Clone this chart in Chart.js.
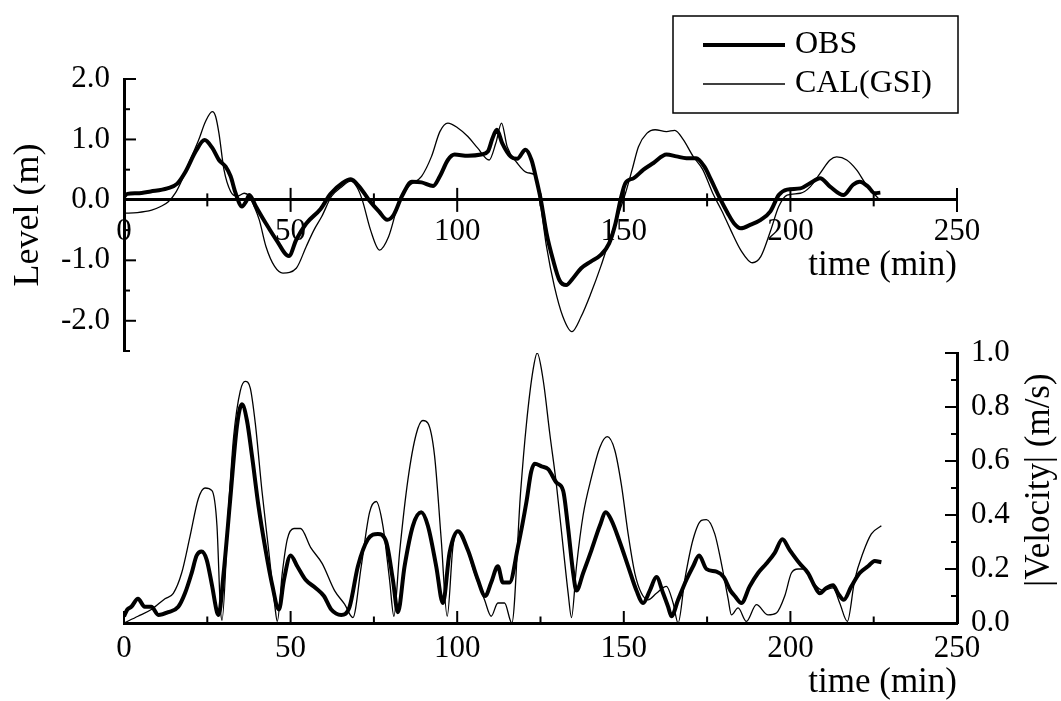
<!DOCTYPE html>
<html>
<head>
<meta charset="utf-8">
<script src="https://cdn.jsdelivr.net/npm/chart.js@4.4.1/dist/chart.umd.min.js"></script>
<style>
  html, body { margin: 0; background: #fff; }
  #wrap { position: relative; width: 1061px; height: 701px; overflow: hidden; }
  canvas { position: absolute; left: 0; }
  #levelChart { top: 0; }
  #velChart { top: 340px; }
</style>
</head>
<body>
<div id="wrap">
  <canvas id="levelChart" width="1061" height="360"></canvas>
  <canvas id="velChart" width="1061" height="361"></canvas>
</div>
<script>
// tick labels
const timeTicks = [0, 50, 100, 150, 200, 250];
const levelTicks = [-2, -1, 0, 1, 2];
const velTicks = [0, 0.2, 0.4, 0.6, 0.8, 1.0];

// water level (m), observed
const timeLevelObs = [0, 1, 4, 8, 13, 16, 18.5, 21.5, 24.2, 26.5,
  28.5, 30.5, 32, 33.5, 35.4, 36.6, 37.6, 39.6, 42.6, 45.7,
  49.5, 51.7, 54.7, 59, 62, 65.6, 68.1, 70.6, 73.5, 76.5,
  79, 80.9, 83.4, 86.4, 89.3, 92.8, 94.8, 97.2, 99.2, 103.2,
  107.2, 109.2, 110.6, 111.9, 113.5, 116, 118, 120.5, 122.3, 123.8,
  125.1, 126.8, 128.8, 130.7, 132.7, 134.7, 137.2, 140.1, 143.1, 145.6,
  147.5, 149, 150.5, 153, 155.9, 158.9, 162.8, 165.8, 168.8, 171.7,
  174.2, 176.2, 178.7, 181.2, 183.1, 185.1, 188.1, 191.1, 194, 196.5,
  199, 203, 206, 208.9, 211.9, 215.9, 218.8, 220.8, 223.3, 225.3, 227];
const levelObs = [0.05, 0.10, 0.11, 0.14, 0.19, 0.27, 0.47, 0.80, 0.99, 0.86,
  0.66, 0.55, 0.39, 0.11, -0.11, -0.03, 0.08, -0.11, -0.39, -0.66,
  -0.93, -0.66, -0.39, -0.15, 0.10, 0.28, 0.34, 0.22, 0.00, -0.19,
  -0.33, -0.25, 0.06, 0.30, 0.29, 0.23, 0.39, 0.66, 0.75, 0.73,
  0.75, 0.80, 1.02, 1.16, 0.94, 0.72, 0.68, 0.83, 0.66, 0.33,
  0.00, -0.55, -1.00, -1.33, -1.41, -1.30, -1.13, -1.02, -0.91, -0.72,
  -0.39, 0.00, 0.28, 0.36, 0.50, 0.61, 0.75, 0.72, 0.69, 0.69,
  0.55, 0.33, 0.04, -0.22, -0.39, -0.47, -0.41, -0.33, -0.19, 0.08,
  0.17, 0.19, 0.28, 0.36, 0.22, 0.08, 0.25, 0.30, 0.22, 0.11, 0.12];

// water level (m), calculated
const timeLevelCal = [0, 4, 8.3, 11, 13.3, 15.5, 17.4, 20, 22.4, 24.5,
  26.5, 27.5, 28.5, 30, 32, 34, 36.1, 37.6, 39, 40.6,
  42.6, 45.2, 47.7, 51.7, 54.7, 57, 59.3, 62.3, 65, 68.1,
  70, 71.5, 74, 76.7, 79.4, 82.4, 85.4, 89.3, 92.3, 94.8,
  97.2, 100.2, 103.2, 106.1, 109.6, 111.6, 113.3, 115, 118, 121,
  123.3, 124.8, 126.8, 129.2, 131.7, 134.4, 137.2, 140.1, 143.1, 146,
  148.5, 150.5, 152.5, 154.4, 156.9, 159.4, 162.8, 165.3, 167.8, 170.8,
  173.7, 176.7, 179.4, 182.1, 185.1, 188.6, 191.1, 194, 196.5, 199,
  203, 206, 208.9, 211.9, 213.9, 216.9, 219.8, 222.8, 225.8, 226.5];
const levelCal = [-0.22, -0.21, -0.17, -0.11, -0.03, 0.12, 0.33, 0.68, 0.99, 1.30,
  1.46, 1.38, 1.10, 0.50, 0.14, 0.06, 0.11, 0.06, -0.10, -0.33,
  -0.77, -1.10, -1.21, -1.13, -0.77, -0.50, -0.28, 0.06, 0.20, 0.31,
  0.20, 0.00, -0.50, -0.83, -0.61, -0.06, 0.22, 0.39, 0.72, 1.13,
  1.27, 1.19, 1.05, 0.86, 0.66, 0.94, 1.27, 0.88, 0.61, 0.45,
  0.41, 0.00, -0.77, -1.44, -1.93, -2.18, -1.93, -1.55, -1.10, -0.61,
  -0.22, 0.11, 0.50, 0.88, 1.10, 1.16, 1.13, 1.15, 1.00, 0.72,
  0.50, 0.11, -0.18, -0.50, -0.83, -1.04, -0.94, -0.52, -0.11, 0.08,
  0.11, 0.22, 0.44, 0.66, 0.71, 0.66, 0.50, 0.25, 0.06, 0.02];

// |velocity| (m/s), observed
const timeVelObs = [0, 1, 2.2, 4.2, 6.2, 8.2, 10.3, 13.3, 16.3, 18.3,
  20.3, 21.8, 23.3, 24.8, 26.4, 27.9, 28.4, 29.9, 31.9, 33.9,
  35.4, 36.9, 38.4, 40.4, 42.5, 44.5, 46.5, 48, 50, 52,
  54.5, 57.5, 60, 62.2, 65.2, 67.7, 70.2, 73.2, 76.2, 78.7,
  80.7, 82.2, 84.2, 86.7, 89.2, 91.2, 93.7, 95.7, 97.7, 100.2,
  103.2, 106.2, 108.4, 110.2, 112.2, 113.7, 115.7, 118.2, 120.8, 122.2,
  123.3, 125.3, 127.3, 129.8, 131.8, 133.3, 134.8, 135.8, 137.8, 140.3,
  142.8, 144.6, 146.3, 148.8, 151.3, 153.8, 155.8, 157.8, 159.8, 161.8,
  163.3, 164.3, 166.3, 168.8, 170.8, 172.6, 174.8, 177.8, 180, 182,
  183.3, 185.3, 187.8, 190.3, 192.8, 195.3, 197.6, 199.8, 202.8, 205.3,
  207.3, 208.8, 210.8, 212.8, 214.3, 216, 218.3, 220.8, 223.3, 225.3, 227.3];
const velObs = [0.025, 0.05, 0.06, 0.09, 0.06, 0.06, 0.03, 0.04, 0.06, 0.11,
  0.185, 0.25, 0.265, 0.235, 0.14, 0.04, 0.03, 0.185, 0.46, 0.73,
  0.81, 0.75, 0.62, 0.43, 0.27, 0.14, 0.05, 0.16, 0.25, 0.21,
  0.16, 0.13, 0.10, 0.05, 0.03, 0.06, 0.21, 0.31, 0.33, 0.30,
  0.16, 0.04, 0.21, 0.36, 0.41, 0.36, 0.21, 0.074, 0.26, 0.34,
  0.27, 0.16, 0.10, 0.15, 0.21, 0.15, 0.15, 0.28, 0.45, 0.56,
  0.59, 0.58, 0.57, 0.52, 0.49, 0.35, 0.185, 0.12, 0.185, 0.27,
  0.36, 0.41, 0.38, 0.30, 0.21, 0.12, 0.074, 0.12, 0.17, 0.11,
  0.06, 0.025, 0.086, 0.16, 0.21, 0.25, 0.20, 0.19, 0.17, 0.12,
  0.10, 0.074, 0.136, 0.185, 0.22, 0.26, 0.31, 0.27, 0.22, 0.185,
  0.136, 0.11, 0.13, 0.14, 0.11, 0.086, 0.136, 0.185, 0.21, 0.23, 0.225];

// |velocity| (m/s), calculated
const timeVelCal = [0, 4.2, 8.2, 12.3, 14.8, 17.3, 19.8, 22.3, 24.3, 26.4,
  27.9, 28.9, 29.4, 31.4, 32.9, 34.9, 36.4, 37.9, 39.4, 41.4,
  43.5, 45.3, 46, 47.5, 49, 51, 53, 56, 59.5, 63.2,
  66.2, 68.7, 71.2, 73.7, 75.7, 77.7, 79.7, 81, 82.7, 85.2,
  87.7, 89.7, 91.2, 93.2, 95.2, 97, 98.7, 100.2, 102.2, 105.2,
  108.2, 110.2, 112.2, 114.2, 116.4, 119, 120.8, 122.8, 124, 125.8,
  127.8, 129.8, 131.8, 133.3, 134.3, 135.8, 137.8, 140.3, 142.8, 145,
  147.3, 149.3, 151.3, 153.3, 155.3, 157.3, 159.8, 162.8, 164.8, 166.3,
  168.3, 170.8, 173.3, 174.8, 177.3, 179.3, 181.3, 182.3, 184.3, 186.8,
  189.8, 193.3, 195.8, 198.3, 200.3, 202.3, 204.3, 206.8, 209.8, 212.8,
  214.8, 217.1, 219.3, 221.8, 224.3, 227.3];
const velCal = [0, 0.025, 0.05, 0.09, 0.11, 0.185, 0.32, 0.46, 0.50, 0.49,
  0.36, 0.06, 0.01, 0.43, 0.69, 0.86, 0.895, 0.87, 0.74, 0.49,
  0.26, 0.06, 0.006, 0.185, 0.31, 0.35, 0.35, 0.28, 0.22, 0.12,
  0.07, 0.02, 0.21, 0.41, 0.45, 0.36, 0.16, 0.025, 0.26, 0.53,
  0.70, 0.75, 0.74, 0.62, 0.31, 0.025, 0.28, 0.34, 0.30, 0.185,
  0.086, 0.025, 0.074, 0.074, 0.0, 0.48, 0.74, 0.94, 1.0, 0.90,
  0.70, 0.51, 0.28, 0.11, 0.02, 0.21, 0.40, 0.54, 0.65, 0.69,
  0.64, 0.51, 0.33, 0.185, 0.11, 0.086, 0.11, 0.136, 0.074, 0.0,
  0.16, 0.31, 0.38, 0.383, 0.33, 0.22, 0.09, 0.03, 0.056, 0.006,
  0.068, 0.03, 0.037, 0.10, 0.185, 0.20, 0.20, 0.15, 0.12, 0.13,
  0.074, 0.006, 0.16, 0.26, 0.33, 0.36];

const serif = '"Liberation Serif", "Times New Roman", serif';
Chart.defaults.font.family = serif;
Chart.defaults.color = '#000';

const pts = (xs, ys) => xs.map((x, i) => ({x: x, y: ys[i]}));
const tickFont = {family: serif, size: 31};
const titleFont = {family: serif, size: 35};

function seg(ctx, x1, y1, x2, y2) {
  ctx.beginPath();
  ctx.moveTo(x1, y1);
  ctx.lineTo(x2, y2);
  ctx.stroke();
}

function lineSet(label, data, width) {
  return {
    label: label, data: data, borderColor: '#000', borderWidth: width,
    pointRadius: 0, cubicInterpolationMode: 'monotone', borderJoinStyle: 'round'
  };
}

// inward tick marks + boxed legend for the level panel
const levelDecor = {
  id: 'levelDecor',
  afterDraw(chart) {
    const ctx = chart.ctx;
    const {x, y} = chart.scales;
    const y0 = y.getPixelForValue(0);
    const ax = chart.chartArea.left;
    ctx.save();
    ctx.strokeStyle = '#000';
    ctx.lineWidth = 2;
    timeTicks.forEach(v => {
      const p = x.getPixelForValue(v);
      seg(ctx, p, y0 - 12, p, y0 + 12);
      if (v < 250) {
        const q = x.getPixelForValue(v + 25);
        seg(ctx, q, y0 - 6.5, q, y0 + 6.5);
      }
    });
    levelTicks.forEach(v => {
      const p = y.getPixelForValue(v);
      seg(ctx, ax, p, ax + 12, p);
      const q = y.getPixelForValue(v - 0.5);
      seg(ctx, ax, q, ax + 6, q);
    });

    // legend
    const right = x.getPixelForValue(250) + 1;
    const left = right - 285;
    ctx.lineWidth = 1.5;
    ctx.strokeRect(left, 16, right - left, 97);
    ctx.font = '32px ' + serif;
    ctx.fillStyle = '#000';
    ctx.textAlign = 'left';
    ctx.textBaseline = 'middle';
    chart.data.datasets.forEach((ds, i) => {
      const ly = 45 + i * 39;
      ctx.lineWidth = ds.borderWidth;
      seg(ctx, left + 30, ly, left + 112, ly);
      ctx.fillText(ds.label, left + 122, ly);
    });
    ctx.restore();
  }
};

// inward tick marks + right title for the velocity panel
const velDecor = {
  id: 'velDecor',
  afterDraw(chart) {
    const ctx = chart.ctx;
    const {x, y} = chart.scales;
    const area = chart.chartArea;
    ctx.save();
    ctx.strokeStyle = '#000';
    ctx.lineWidth = 2;
    timeTicks.forEach(v => {
      const p = x.getPixelForValue(v);
      seg(ctx, p, area.bottom, p, area.bottom - 12);
      if (v < 250) {
        const q = x.getPixelForValue(v + 25);
        seg(ctx, q, area.bottom, q, area.bottom - 6.5);
      }
    });
    velTicks.forEach(v => {
      const p = y.getPixelForValue(v);
      seg(ctx, area.right, p, area.right - 12, p);
      if (v < 1) {
        const q = y.getPixelForValue(v + 0.1);
        seg(ctx, area.right, q, area.right - 6, q);
      }
    });
    ctx.translate(y.right - 21, (y.top + y.bottom) / 2 - 8);
    ctx.rotate(-Math.PI / 2);
    ctx.font = '35px ' + serif;
    ctx.fillStyle = '#000';
    ctx.textAlign = 'center';
    ctx.textBaseline = 'middle';
    ctx.fillText('|Velocity| (m/s)', 0, 0);
    ctx.restore();
  }
};

new Chart(document.getElementById('levelChart'), {
  type: 'line',
  data: {
    datasets: [
      lineSet('OBS', pts(timeLevelObs, levelObs), 4),
      lineSet('CAL(GSI)', pts(timeLevelCal, levelCal), 1.3)
    ]
  },
  options: {
    responsive: false,
    animation: false,
    devicePixelRatio: 1,
    layout: {padding: {left: 0, right: 104, top: 79, bottom: 9}},
    plugins: {legend: {display: false}, tooltip: {enabled: false}},
    scales: {
      x: {
        type: 'linear', min: 0, max: 250, position: {y: 0},
        afterBuildTicks: s => { s.ticks = timeTicks.map(v => ({value: v})); },
        afterFit: s => { s.height = 86.5; s.paddingLeft = 0; s.paddingRight = 0; },
        grid: {display: false, drawTicks: false},
        border: {display: true, color: '#000', width: 3},
        ticks: {font: tickFont, color: '#000', padding: 13, maxRotation: 0, autoSkip: false},
        title: {display: true, text: 'time (min)', align: 'end', font: titleFont, color: '#000', padding: 0}
      },
      y: {
        type: 'linear', min: -2.5, max: 2.0, position: 'left',
        afterBuildTicks: s => { s.ticks = levelTicks.map(v => ({value: v})); },
        afterFit: s => { s.width = 124; s.paddingTop = 0; s.paddingBottom = 0; },
        grid: {display: false, drawTicks: false},
        border: {display: true, color: '#000', width: 3},
        ticks: {font: tickFont, color: '#000', padding: 14, callback: v => v.toFixed(1)},
        title: {display: true, text: 'Level (m)', font: {family: serif, size: 36}, color: '#000', padding: {top: 7, bottom: 0}}
      }
    }
  },
  plugins: [levelDecor]
});

new Chart(document.getElementById('velChart'), {
  type: 'line',
  data: {
    datasets: [
      lineSet('OBS', pts(timeVelObs, velObs), 4),
      lineSet('CAL(GSI)', pts(timeVelCal, velCal), 1.3)
    ]
  },
  options: {
    responsive: false,
    animation: false,
    devicePixelRatio: 1,
    layout: {padding: {left: 124, right: 0, top: 13, bottom: 0}},
    plugins: {legend: {display: false}, tooltip: {enabled: false}},
    scales: {
      x: {
        type: 'linear', min: 0, max: 250, position: 'bottom',
        afterBuildTicks: s => { s.ticks = timeTicks.map(v => ({value: v})); },
        afterFit: s => { s.height = 78; s.paddingLeft = 0; s.paddingRight = 0; },
        grid: {display: false, drawTicks: false},
        border: {display: true, color: '#000', width: 3},
        ticks: {font: tickFont, color: '#000', padding: 7, maxRotation: 0, autoSkip: false},
        title: {display: true, text: 'time (min)', align: 'end', font: titleFont, color: '#000', padding: {top: 0, bottom: -3}}
      },
      y: {
        type: 'linear', min: 0, max: 1.0, position: 'right',
        afterBuildTicks: s => { s.ticks = velTicks.map(v => ({value: v})); },
        afterFit: s => { s.width = 104; s.paddingTop = 0; s.paddingBottom = 0; },
        grid: {display: false, drawTicks: false},
        border: {display: true, color: '#000', width: 3},
        ticks: {font: tickFont, color: '#000', padding: 14, callback: v => v.toFixed(1)}
      }
    }
  },
  plugins: [velDecor]
});
</script>
</body>
</html>
